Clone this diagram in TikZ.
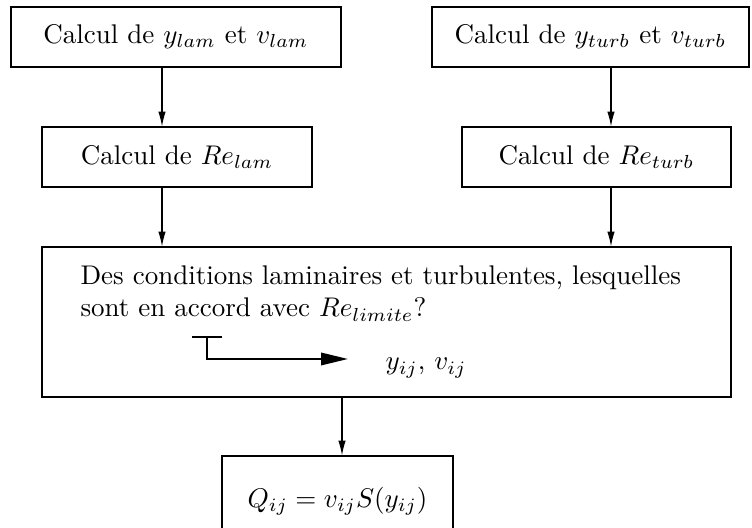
\documentclass[tikz,border=0pt]{standalone}
\usetikzlibrary{arrows.meta}
\newcommand{\px}{0.3704pt}
\tikzset{
  boite/.style={draw,line width=0.45pt,inner sep=0pt},
  fleche/.style={-{Latex[length=5.5pt,width=2.8pt]},line width=0.4pt},
  grosse fleche/.style={-{Triangle[length=10pt,width=4.6pt]},line width=0.8pt},
}

\begin{document}
\begin{tikzpicture}[x=\px,y=-\px]
\useasboundingbox (0,0) rectangle (752,528);
% premiere rangee
\node[boite,minimum width=330*\px,minimum height=60*\px] (ylam) at (176,37) {Calcul de $y_{lam}$ et $v_{lam}$};
\node[boite,minimum width=317*\px,minimum height=60*\px] (yturb) at (590.5,37) {Calcul de $y_{turb}$ et $v_{turb}$};
% deuxieme rangee
\node[boite,minimum width=270*\px,minimum height=60*\px] (relam) at (177,157) {Calcul de $Re_{lam}$};
\node[boite,minimum width=269*\px,minimum height=60*\px] (returb) at (596.5,157) {Calcul de $Re_{turb}$};
% grande boite
\node[boite,minimum width=689*\px,minimum height=150*\px] (choix) at (386.5,322) {};
\node[anchor=base west,inner sep=0pt] (ligne1) at (80,285) {Des conditions laminaires et turbulentes, lesquelles};
\node[anchor=base west,inner sep=0pt] (ligne2) at (80,317) {sont en accord avec $Re_{limite}$?};
\node[anchor=base west,inner sep=0pt] (yv) at (385,370) {$y_{ij}$, $v_{ij}$};
\coordinate (t1) at (192,337);
\coordinate (t2) at (222,337);
\coordinate (depart) at (207,337);
\coordinate (fin) at (348,359);
\draw[line width=0.8pt] (t1) -- (t2);
\draw[grosse fleche] (depart) |- (fin);
% resultat
\node[boite,minimum width=231*\px,minimum height=90*\px] (debit) at (337.5,501) {$Q_{ij}=v_{ij}S(y_{ij})$};
% fleches
\coordinate (xg) at (162,0);
\coordinate (xd) at (611,0);
\coordinate (xm) at (342,0);
\draw[fleche] (ylam.south -| xg) -- (relam.north -| xg);
\draw[fleche] (yturb.south -| xd) -- (returb.north -| xd);
\draw[fleche] (relam.south -| xg) -- (choix.north -| xg);
\draw[fleche] (returb.south -| xd) -- (choix.north -| xd);
\draw[fleche] (choix.south -| xm) -- (debit.north -| xm);
\end{tikzpicture}
\end{document}
